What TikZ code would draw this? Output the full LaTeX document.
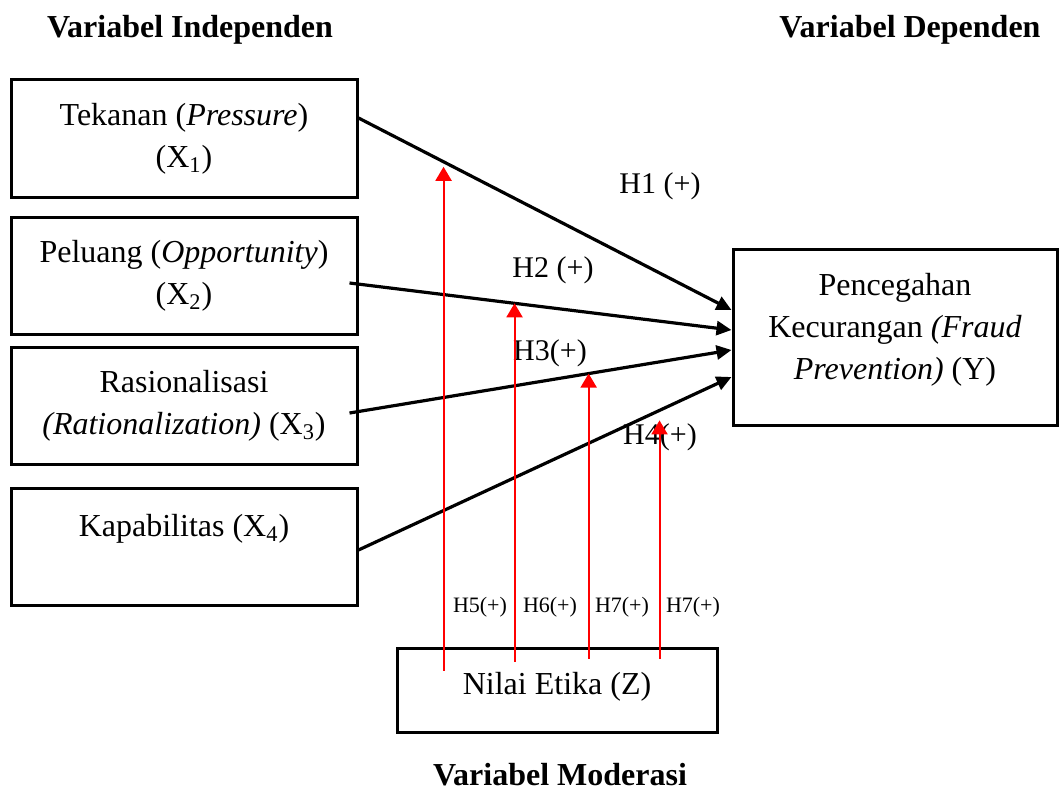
\documentclass[tikz,border=0pt]{standalone}
\usepackage{fontspec}
\setmainfont{Liberation Serif}
\usepackage{tikz}
\usetikzlibrary{arrows.meta, positioning, calc}

\tikzset{
	var/.style = {draw, line width = 1.5pt, minimum width = 173pt, minimum height = 58.5pt, align = center, inner sep = 2pt, font = \fontsize{16}{21}\selectfont},
	title/.style = {font = \fontsize{16}{20}\selectfont\bfseries},
	hyp/.style = {font = \fontsize{15}{18}\selectfont},
	hypsmall/.style = {font = \fontsize{11}{13}\selectfont},
	effect/.style = {line width = 1.6pt, -{Triangle[length = 7.5pt, width = 7pt]}},
	moder/.style = {red, line width = 1pt, -{Triangle[length = 7pt, width = 8pt]}}
}

\begin{document}
\begin{tikzpicture} [x = 0.5pt, y = -0.5pt, node distance = 68.75pt, on grid]
		\useasboundingbox (0,0) rectangle (1059,792);
		% Help grid
		%	\draw [help lines, step = 50] (0,0) grid (1059,792);

		% Titles
		\node (tind) [title] at (190,30) {Variabel Independen};
		\node (tdep) [title] at (910,30) {Variabel Dependen};
		\node (tmod) [title] at (560,775) {Variabel Moderasi};

		% Independent variables : every other box is measured based on X1
		\node (X1) [var] at (184,138.5) {Tekanan (\textit{Pressure})\\(X\textsubscript{1})};

		\node (X2) [var, below = of X1] {Peluang (\textit{Opportunity})\\(X\textsubscript{2})};

		\node (X3) [var, below = 64.75pt of X2] {Rasionalisasi\\\textit{(Rationalization)} (X\textsubscript{3})};

		\node (X4) [var, below = 70.5pt of X3] {Kapabilitas (X\textsubscript{4})\\~};

		% Dependent variable
		\node (Y) [var, minimum width = 162pt, minimum height = 88pt, text depth = 11pt] at (895,337) {Pencegahan\\Kecurangan \textit{(Fraud}\\\textit{Prevention)} (Y)};

		% Moderating variable
		\node (Z) [var, minimum width = 160pt, minimum height = 42pt, text depth = 7pt] at (557,690) {Nilai Etika (Z)};

		% Hypotheses
		\node (h1) [hyp] at (660,186) {H1 (+)};
		\node (h2) [hyp] at (553,270) {H2 (+)};
		\node (h3) [hyp] at (550,353) {H3(+)};
		\node (h4) [hyp] at (660,437) {H4(+)};
		\node (h5) [hypsmall] at (480,607) {H5(+)};
		\node (h6) [hypsmall] at (550,607) {H6(+)};
		\node (h7) [hypsmall] at (622,607) {H7(+)};
		\node (h8) [hypsmall] at (693,607) {H7(+)};

		% Direct effects X => Y
		\draw [effect] ([yshift = 10.25pt]X1.east) -- coordinate [pos = 0.228] (m1) ([yshift = 13.5pt]Y.west);
		\draw [effect] ([xshift = -4.5pt, yshift = -3.5pt]X2.east) -- coordinate [pos = 0.432] (m2) ([yshift = 3.5pt]Y.west);
		\draw [effect] ([xshift = -4.5pt, yshift = -3.75pt]X3.east) -- coordinate [pos = 0.626] (m3) ([yshift = -6.5pt]Y.west);
		\draw [effect] ([yshift = -1.75pt]X4.east) -- coordinate [pos = 0.807] (m4) ([yshift = -20pt]Y.west);

		% Moderation Z => (X => Y)
		\draw [moder, shorten > = 2.5pt] ($(Z.north -| m1) + (0,24)$) -- (m1);
		\draw [moder] ($(Z.north -| m2) + (0,15)$) -- (m2);
		\draw [moder] ($(Z.north -| m3) + (0,12)$) -- (m3);
		\draw [moder, shorten > = 5pt] ($(Z.north -| m4) + (0,12)$) -- (m4);
	\end{tikzpicture}
\end{document}
